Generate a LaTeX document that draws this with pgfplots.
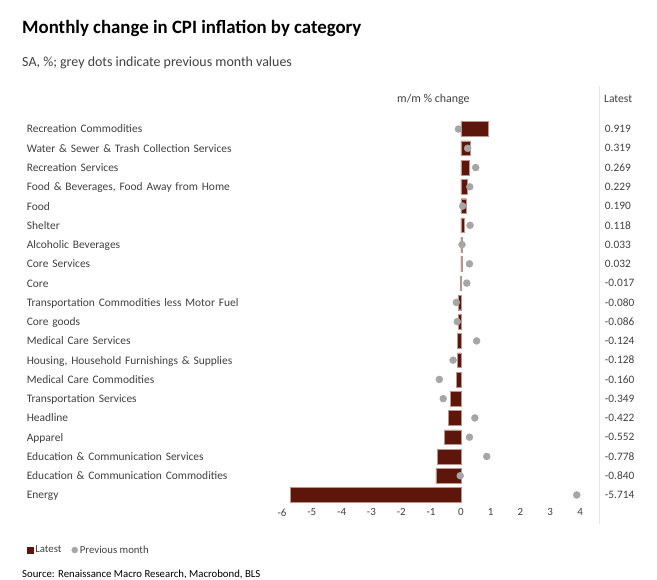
\documentclass[border=0pt]{standalone}
\usepackage{fontspec}
\setmainfont{Carlito}
\usepackage{pgfplots}
\usepackage{pgfplotstable}
\pgfplotsset{compat=1.18}
\definecolor{barc}{RGB}{94,22,10}
\definecolor{dotc}{RGB}{166,166,166}
\definecolor{txt}{RGB}{64,64,64}
\definecolor{sep}{RGB}{230,230,230}

\pgfplotstableread{
idx latest prev pos lab
0  0.919 -0.08 4.83 0.919
1  0.319  0.23 4.83 0.319
2  0.269  0.50 4.83 0.269
3  0.229  0.30 4.83 0.229
4  0.190  0.06 4.83 0.190
5  0.118  0.31 4.83 0.118
6  0.033  0.04 4.83 0.033
7  0.032  0.29 4.83 0.032
8 -0.017  0.20 4.83 -0.017
9 -0.080 -0.15 4.83 -0.080
10 -0.086 -0.12 4.83 -0.086
11 -0.124  0.53 4.83 -0.124
12 -0.128 -0.26 4.83 -0.128
13 -0.160 -0.72 4.83 -0.160
14 -0.349 -0.59 4.83 -0.349
15 -0.422  0.47 4.83 -0.422
16 -0.552  0.29 4.83 -0.552
17 -0.778  0.87 4.83 -0.778
18 -0.840 -0.02 4.83 -0.840
19 -5.714  3.89 4.83 -5.714
}\data

\begin{document}
\begin{tikzpicture}
\useasboundingbox (0bp,0bp) rectangle (657bp,-580bp);
\node[anchor=base west, inner sep=0pt, text=black, font=\bfseries\fontsize{18.9}{22}\selectfont] at (22bp,-33bp) {Monthly change in CPI inflation by category};
\node[anchor=base west, inner sep=0pt, text=txt, font=\fontsize{14}{16}\selectfont] at (22bp,-66bp) {SA, \%; grey dots indicate previous month values};
\node[anchor=base west, inner sep=0pt, text=txt, font=\fontsize{12}{14}\selectfont] at (397bp,-102bp) {m/m \% change};
\node[anchor=base west, inner sep=0pt, text=txt, font=\fontsize{11.6}{14}\selectfont] at (604bp,-102bp) {Latest};
\draw[sep, line width=0.8pt] (599bp,-86bp) -- (599bp,-524bp);
\node[anchor=base west, inner sep=0pt, text=black, font=\fontsize{10.8}{13}\selectfont] at (22bp,-577bp) {Source: Renaissance Macro Research, Macrobond, BLS};
\begin{axis}[
  at={(282bp,-504.6bp)}, anchor=south west,
  scale only axis, width=318bp, height=385.2bp,
  xmin=-6, xmax=4.67, ymin=-0.5, ymax=19.5,
  y dir=reverse, clip=false,
  axis line style={draw=none},
  major tick length=0pt,
  xtick={-6,-5,-4,-3,-2,-1,0,1,2,3,4},
  xticklabels={-6,-5,-4,-3,-2,-1,0,1,2,3,4},
  xticklabel style={font=\fontsize{11}{13}\selectfont, text=txt, inner sep=0pt, yshift=-4bp},
  ytick={0,...,19},
  yticklabels={{Recreation Commodities},{Water \& Sewer \& Trash Collection Services},{Recreation Services},{Food \& Beverages, Food Away from Home},{Food},{Shelter},{Alcoholic Beverages},{Core Services},{Core},{Transportation Commodities less Motor Fuel},{Core goods},{Medical Care Services},{Housing, Household Furnishings \& Supplies},{Medical Care Commodities},{Transportation Services},{Headline},{Apparel},{Education \& Communication Services},{Education \& Communication Commodities},{Energy}},
  yticklabel style={font=\fontsize{11.5}{13}\selectfont, text=txt, inner sep=0pt, anchor=east, text width=255bp, align=left, text height=1.6ex, text depth=0.45ex, yshift=-1.2bp},
  legend style={at={(-0.8025,-0.118)}, anchor=west, draw=none, fill=none, font=\fontsize{10.8}{13}\selectfont, text=txt, inner sep=0pt, nodes={inner sep=2bp}},
  legend columns=2,
  legend cell align=left,
  /tikz/every even column/.append style={column sep=8bp},
]
\addplot[xbar, bar width=14.7bp, fill=barc, draw=barc!45!white, line width=0.4pt,
  legend image code/.code={\fill[barc] (0bp,-3bp) rectangle (6bp,3bp);}]
  table[x=latest, y=idx] {\data};
\addlegendentry{Latest}
\addplot[only marks, mark=*, mark size=3.5bp, color=dotc, mark options={draw=dotc, fill=dotc},
  legend image code/.code={\fill[dotc] (3bp,0bp) circle (3bp);}]
  table[x=prev, y=idx] {\data};
\addlegendentry{Previous month}
\addplot[forget plot, only marks, mark=none, nodes near coords, point meta=explicit symbolic,
  nodes near coords style={anchor=west, inner sep=0pt, font=\fontsize{11.4}{13}\selectfont, text=txt}]
  table[x=pos, y=idx, meta=lab] {\data};
\end{axis}
\end{tikzpicture}
\end{document}
